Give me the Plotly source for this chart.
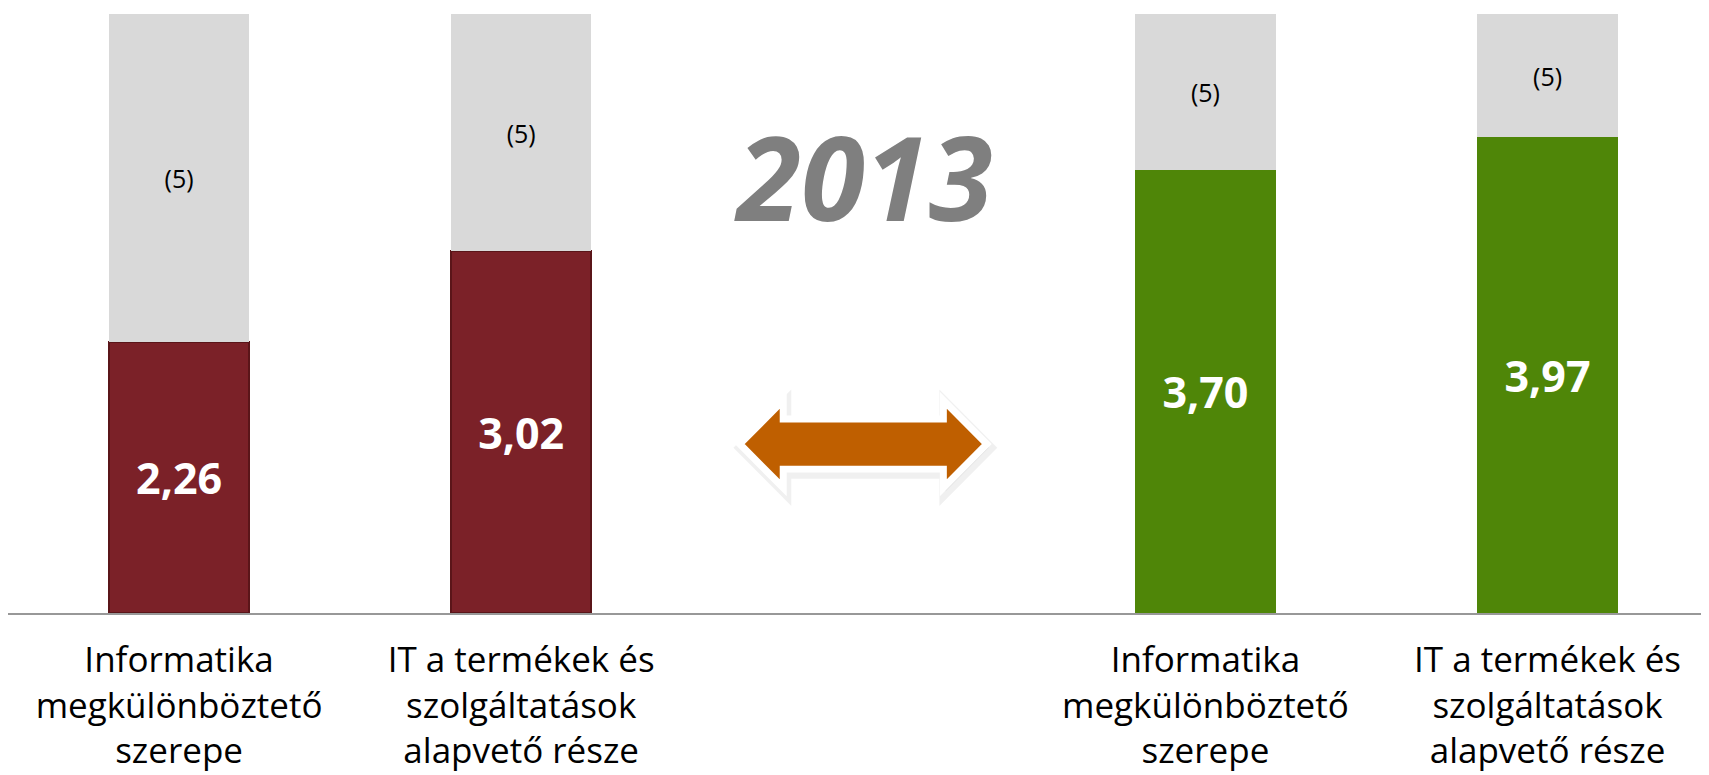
import plotly.graph_objects as go

# --- data ---
categories = ["Informatika<br>megkülönböztető<br>szerepe",
              "IT a termékek és<br>szolgáltatások<br>alapvető része"]
left_values = [2.26, 3.02]     # red group
right_values = [3.70, 3.97]    # green group
scale_max = 5
max_label = "(5)"
center_title = "2013"

left_x = [0, 1]
right_x = [3, 4]
all_x = left_x + right_x
all_vals = left_values + right_values

def fmt(v):
    return f"{v:.2f}".replace(".", ",")

BAR_W = 0.41
RED = "#7B2128"
GREEN = "#4F8608"
GRAY = "#D9D9D9"

fig = go.Figure()
fig.add_trace(go.Bar(
    x=left_x, y=left_values, width=BAR_W,
    marker=dict(color=RED, line=dict(color="#5A1519", width=2)),
    text=[fmt(v) for v in left_values], textposition="inside",
    insidetextanchor="middle", textangle=0,
    textfont=dict(family="Open Sans", size=43, color="white", weight="bold"),
    hoverinfo="skip", showlegend=False))
fig.add_trace(go.Bar(
    x=right_x, y=right_values, width=BAR_W,
    marker=dict(color=GREEN, line=dict(width=0)),
    text=[fmt(v) for v in right_values], textposition="inside",
    insidetextanchor="middle", textangle=0,
    textfont=dict(family="Open Sans", size=43, color="white", weight="bold"),
    hoverinfo="skip", showlegend=False))
fig.add_trace(go.Bar(
    x=all_x, y=[scale_max - v for v in all_vals], width=BAR_W,
    marker=dict(color=GRAY, line=dict(width=0)),
    text=[max_label] * len(all_x), textposition="inside",
    insidetextanchor="middle", textangle=0,
    textfont=dict(family="Open Sans", size=25, color="black"),
    hoverinfo="skip", showlegend=False))

# double arrow (decoration) centred on the empty slot
cx, cy = 2, 1.41
tip, back = 0.361, 0.234
hh, sh = 0.365, 0.21
def arrow_path(dx=0.0, dy=0.0):
    pts = [(cx - tip, cy), (cx - back, cy + hh), (cx - back, cy + sh),
           (cx + back, cy + sh), (cx + back, cy + hh), (cx + tip, cy),
           (cx + back, cy - hh), (cx + back, cy - sh), (cx - back, cy - sh),
           (cx - back, cy - hh)]
    return "M " + " L ".join(f"{x+dx},{y+dy}" for x, y in pts) + " Z"

fig.add_shape(type="path", path=arrow_path(0.006, -0.03), xref="x", yref="y",
              fillcolor="rgba(0,0,0,0.08)", line=dict(color="rgba(0,0,0,0.06)", width=12), layer="above")
fig.add_shape(type="path", path=arrow_path(), xref="x", yref="y",
              fillcolor="#BF5F00", line=dict(color="white", width=7), layer="above")

fig.add_annotation(x=2, y=3.65, xref="x", yref="y", text=center_title, showarrow=False,
                   font=dict(family="Open Sans", size=116, color="#7F7F7F",
                             weight="bold", style="italic"))

fig.update_layout(
    width=1701, height=767,
    margin=dict(l=0, r=0, t=6, b=162),
    paper_bgcolor="white", plot_bgcolor="white",
    barmode="stack", showlegend=False,
    xaxis=dict(range=[-0.5, 4.472], tickvals=all_x, ticktext=categories * 2,
               showgrid=False, zeroline=False, showline=True,
               linecolor="#989898", linewidth=2, ticks="",
               ticklabelstandoff=15, automargin=False,
               tickfont=dict(family="Open Sans", size=35, color="black"),
               fixedrange=True),
    yaxis=dict(range=[0, scale_max], visible=False, fixedrange=True),
)

fig.write_html("out.html")
